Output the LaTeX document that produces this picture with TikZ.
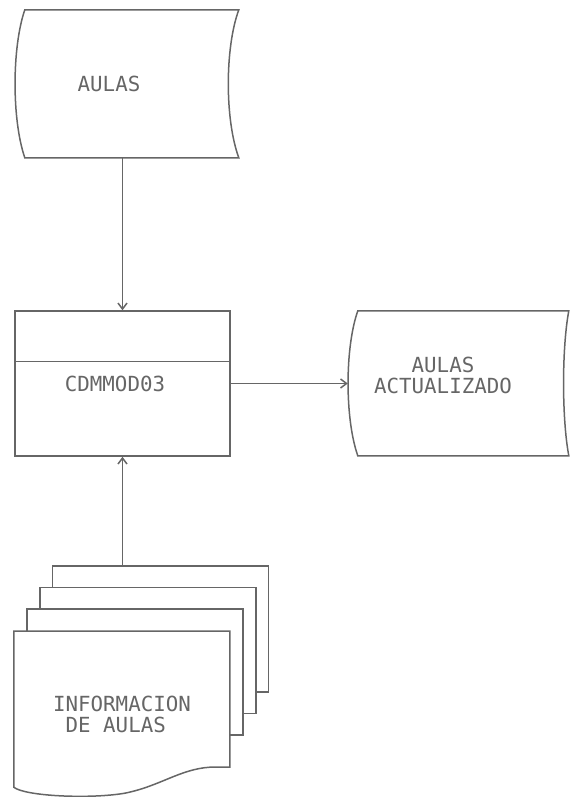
\documentclass[tikz,border=0pt]{standalone}
\usepackage{fontspec}
\setmonofont{DejaVu Sans Mono}
\usetikzlibrary{arrows.meta}

\begin{document}
\begin{tikzpicture}[
  x=1pt,y=-1pt,
  line/.style={draw=black!60,line width=1.5pt},
  txt/.style={font=\ttfamily\fontsize{20.8pt}{21pt}\selectfont,text=black!60,align=center},
  tapebox/.style={minimum width=214pt,minimum height=148pt,inner sep=0pt},
  procbox/.style={line,minimum width=215pt,minimum height=145pt,inner sep=0pt},
  sheet/.style={line,fill=white,minimum width=216pt,minimum height=126pt,inner sep=0pt},
  arrow/.style={line,-{Straight Barb[length=6pt,width=9pt]}}
]
\useasboundingbox (0,0) rectangle (572,797);
\node[tapebox,label={[txt,xshift=-23pt]center:AULAS}] (aulas) at (132,84) {};
\draw[line,shift={(aulas.north west)}] (0,148) .. controls (-13,110) and (-13,38) .. (0,0) -- (214,0) .. controls (200,38) and (200,110) .. (214,148) -- cycle;
\node[procbox,label={[txt,xshift=-7.5pt]center:CDMMOD03}] (proc) at (122.5,383.5) {};
\draw[line] ([yshift=-51pt]proc.north west) -- ([yshift=-51pt]proc.north east);
\node[tapebox,minimum width=211pt,minimum height=145pt,label={[txt,xshift=-20.5pt,yshift=8.5pt]center:AULAS\\ACTUALIZADO}] (act) at (463.5,383.5) {};
\draw[line,shift={(act.north west)}] (0,145) .. controls (-13,108) and (-13,37) .. (0,0) -- (211,0) .. controls (204,37) and (204,108) .. (211,145) -- cycle;
\node[sheet] (sheetc) at (160.5,629) {};
\node[sheet] (sheetb) at (148,650.5) {};
\node[sheet] (sheeta) at (135,672) {};
\node[fill=white,minimum width=216pt,minimum height=156pt,inner sep=0pt,label={[txt,align=left,yshift=-5pt]center:INFORMACION\\\hphantom{I}DE AULAS}] (doc) at (122,709) {};
\draw[line,shift={(doc.south west)}] (0,0) .. controls (11,9) and (76,12) .. (111,6) .. controls (146,-1) and (166,-18) .. (196,-20) -- (216,-20) -- (216,-156) -- (0,-156) -- cycle;
\draw[arrow] (aulas.south -| proc.north) -- (proc.north);
\draw[arrow] (proc.east) -- ([xshift=-10pt]act.west);
\draw[arrow] (sheetc.north -| proc.south) -- (proc.south);
\end{tikzpicture}
\end{document}
